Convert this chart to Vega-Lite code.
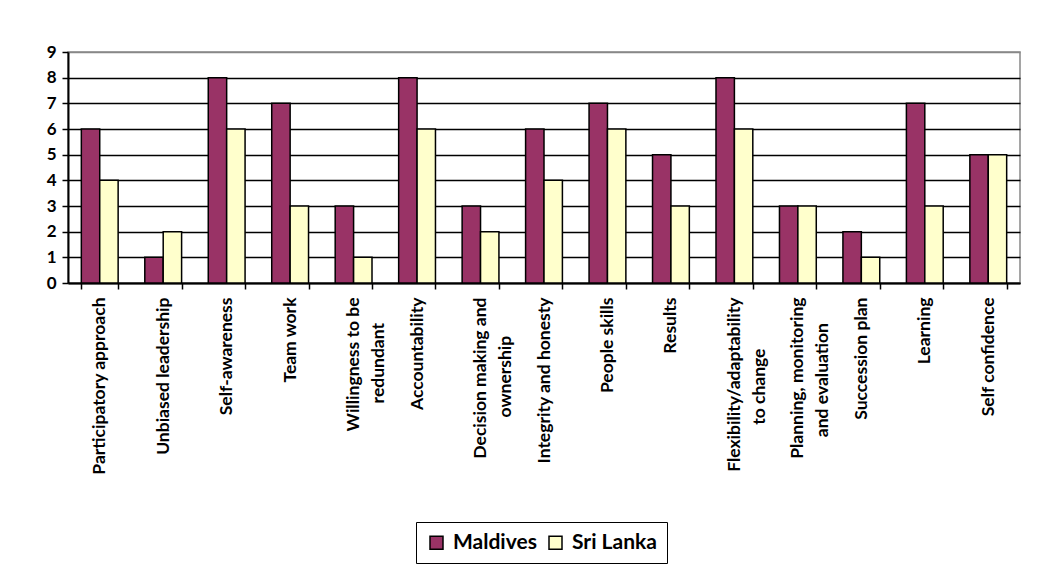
{
  "$schema": "https://vega.github.io/schema/vega-lite/v6.json",
  "width": 952,
  "height": 231,
  "autosize": {"type": "none"},
  "padding": {"left": 68, "top": 52, "right": 22, "bottom": 298},
  "background": "white",
  "data": {
    "values": [
      {"competency": "Participatory approach", "country": "Maldives", "count": 6},
      {"competency": "Participatory approach", "country": "Sri Lanka", "count": 4},
      {"competency": "Unbiased leadership", "country": "Maldives", "count": 1},
      {"competency": "Unbiased leadership", "country": "Sri Lanka", "count": 2},
      {"competency": "Self-awareness", "country": "Maldives", "count": 8},
      {"competency": "Self-awareness", "country": "Sri Lanka", "count": 6},
      {"competency": "Team work", "country": "Maldives", "count": 7},
      {"competency": "Team work", "country": "Sri Lanka", "count": 3},
      {"competency": "Willingness to be redundant", "country": "Maldives", "count": 3},
      {"competency": "Willingness to be redundant", "country": "Sri Lanka", "count": 1},
      {"competency": "Accountability", "country": "Maldives", "count": 8},
      {"competency": "Accountability", "country": "Sri Lanka", "count": 6},
      {"competency": "Decision making and ownership", "country": "Maldives", "count": 3},
      {"competency": "Decision making and ownership", "country": "Sri Lanka", "count": 2},
      {"competency": "Integrity and honesty", "country": "Maldives", "count": 6},
      {"competency": "Integrity and honesty", "country": "Sri Lanka", "count": 4},
      {"competency": "People skills", "country": "Maldives", "count": 7},
      {"competency": "People skills", "country": "Sri Lanka", "count": 6},
      {"competency": "Results", "country": "Maldives", "count": 5},
      {"competency": "Results", "country": "Sri Lanka", "count": 3},
      {"competency": "Flexibility/adaptability to change", "country": "Maldives", "count": 8},
      {"competency": "Flexibility/adaptability to change", "country": "Sri Lanka", "count": 6},
      {"competency": "Planning, monitoring and evaluation", "country": "Maldives", "count": 3},
      {"competency": "Planning, monitoring and evaluation", "country": "Sri Lanka", "count": 3},
      {"competency": "Succession plan", "country": "Maldives", "count": 2},
      {"competency": "Succession plan", "country": "Sri Lanka", "count": 1},
      {"competency": "Learning", "country": "Maldives", "count": 7},
      {"competency": "Learning", "country": "Sri Lanka", "count": 3},
      {"competency": "Self confidence", "country": "Maldives", "count": 5},
      {"competency": "Self confidence", "country": "Sri Lanka", "count": 5}
    ]
  },
  "mark": {"type": "bar", "stroke": "black", "strokeWidth": 1.5},
  "encoding": {
    "x": {
      "field": "competency",
      "type": "nominal",
      "sort": null,
      "title": null,
      "scale": {"paddingInner": 0.42, "paddingOuter": 0.21},
      "axis": {
        "labelAngle": -90,
        "labelAlign": "right",
        "labelBaseline": "middle",
        "labelFont": "Lato",
        "labelFontWeight": "bold",
        "labelFontSize": 17.5,
        "labelColor": "black",
        "labelLineHeight": 25,
        "labelPadding": 8,
        "labelLimit": 400,
        "tickBand": "extent",
        "tickSize": 6,
        "tickColor": "black",
        "tickWidth": 1.5,
        "domainColor": "black",
        "domainWidth": 2,
        "labelExpr": "datum.label == 'Willingness to be redundant' ? ['Willingness to be', 'redundant' + '\u00a0\u00a0\u00a0\u00a0\u00a0\u00a0\u2060'] : datum.label == 'Decision making and ownership' ? ['Decision making and', 'ownership' + '\u00a0\u00a0\u00a0\u00a0\u00a0\u00a0\u00a0\u00a0\u00a0\u2060'] : datum.label == 'Flexibility/adaptability to change' ? ['Flexibility/adaptability', 'to change' + '\u00a0\u00a0\u00a0\u00a0\u00a0\u00a0\u00a0\u00a0\u00a0\u00a0\u00a0\u00a0\u2060'] : datum.label == 'Planning, monitoring and evaluation' ? ['Planning, monitoring', 'and evaluation' + '\u00a0\u00a0\u00a0\u00a0\u00a0\u00a0\u2060'] : datum.label"
      }
    },
    "xOffset": {"field": "country", "type": "nominal", "scale": {"paddingInner": 0, "paddingOuter": 0}},
    "y": {
      "field": "count",
      "type": "quantitative",
      "title": null,
      "scale": {"domain": [0, 9], "nice": false},
      "axis": {
        "values": [0, 1, 2, 3, 4, 5, 6, 7, 8, 9],
        "labelFont": "Lato",
        "labelFontWeight": "bold",
        "labelFontSize": 17,
        "labelColor": "black",
        "labelPadding": 6,
        "tickSize": 6,
        "tickColor": "black",
        "tickWidth": 1.5,
        "domainColor": "black",
        "domainWidth": 2,
        "grid": true,
        "gridColor": {"condition": {"test": "datum.value == 9", "value": "#888888"}, "value": "black"},
        "gridWidth": 1.5
      }
    },
    "fill": {
      "field": "country",
      "type": "nominal",
      "title": null,
      "scale": {"domain": ["Maldives", "Sri Lanka"], "range": ["#993366", "#FFFFCC"]},
      "legend": {
        "orient": "none",
        "legendX": 348,
        "legendY": 470,
        "direction": "horizontal",
        "columns": 2,
        "symbolType": "square",
        "symbolSize": 169,
        "symbolStrokeColor": "black",
        "symbolStrokeWidth": 1.5,
        "labelFont": "Lato",
        "labelFontWeight": "bold",
        "labelFontSize": 21,
        "labelColor": "black",
        "columnPadding": 8,
        "symbolOffset": 0,
        "labelOffset": 6,
        "strokeColor": "black",
        "padding": 10
      }
    }
  },
  "config": {
    "view": {"stroke": "#888888", "strokeWidth": 1.5},
    "axis": {"gridOpacity": 1}
  }
}
